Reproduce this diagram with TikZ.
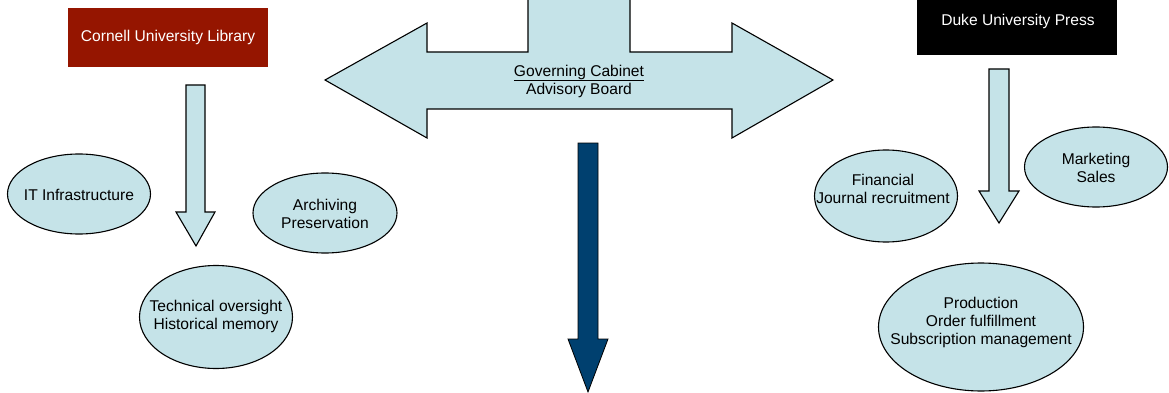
\documentclass[tikz,border=0pt]{standalone}
\usepackage{fontspec}
\setmainfont{Liberation Sans}
\usetikzlibrary{shapes.geometric}
\definecolor{lb}{HTML}{C5E3E8}
\definecolor{cornellred}{HTML}{951500}
\definecolor{navy}{HTML}{00406F}
\begin{document}
\begin{tikzpicture}[x=1pt,y=-1pt,
  bubble/.style={ellipse,draw=black,fill=lb,line width=1.1pt,inner sep=0pt},
  lbl/.style={align=center,font=\fontsize{15.6}{18}\selectfont,inner sep=0pt},
  blockarrow/.style={draw=black,fill=lb,line width=1.1pt,line join=miter}]
\useasboundingbox (0,0) rectangle (1169,393);
\clip (0,0) rectangle (1169,393);
% big T-shaped double arrow
\draw[blockarrow] (325,80) -- (427,23) -- (427,52) -- (528,52) -- (528,-5) -- (630,-5) -- (630,52) -- (732,52) -- (732,23) -- (833,80) -- (732,138) -- (732,109) -- (427,109) -- (427,138) -- cycle;
\node[lbl] (gov) at (579,81) {\underline{Governing Cabinet}\\Advisory Board};
% Cornell box
\node[fill=cornellred,minimum width=200pt,minimum height=59pt,inner sep=0pt] (cul) at (168,37.5) {};
\node[lbl,text=white] (cultext) at (cul.center) {Cornell University Library};
% Duke box
\node[fill=black,minimum width=200pt,minimum height=60pt,inner sep=0pt] (dup) at (1017,25) {};
\node[lbl,text=white] (duptext) at (1018,21) {Duke University Press};
% left down arrow
\draw[blockarrow] (186,85) -- (205,85) -- (205,212) -- (215,212) -- (196,246) -- (176,212) -- (186,212) -- cycle;
% right down arrow
\draw[blockarrow] (989,69) -- (1009,69) -- (1009,191) -- (1019,191) -- (999,223) -- (979,191) -- (989,191) -- cycle;
% navy arrow
\draw[fill=navy,draw=black,line width=0.8pt] (578,143) -- (598,143) -- (598,339) -- (608,339) -- (588,392) -- (568,339) -- (578,339) -- cycle;
% ellipses left
\node[bubble,minimum width=143pt,minimum height=80pt] (it) at (79,194) {};
\node[lbl] (ittext) at (79,195) {IT Infrastructure};
\node[bubble,minimum width=144pt,minimum height=80pt] (arch) at (325,213) {};
\node[lbl] (archtext) at (325,214) {Archiving\\Preservation};
\node[bubble,minimum width=153pt,minimum height=103pt] (tech) at (216,317) {};
\node[lbl] (techtext) at (216,316) {Technical oversight\\Historical memory};
% ellipses right
\node[bubble,minimum width=143pt,minimum height=92pt] (fin) at (886,196) {};
\node[lbl] (fintext) at (883,189) {Financial\\Journal recruitment};
\node[bubble,minimum width=143pt,minimum height=80pt] (mkt) at (1096,167) {};
\node[lbl] (mkttext) at (1096,168) {Marketing\\Sales};
\node[bubble,minimum width=205pt,minimum height=128pt] (prod) at (981,327) {};
\node[lbl] (prodtext) at (981,322) {Production\\Order fulfillment\\Subscription management};
\end{tikzpicture}
\end{document}
